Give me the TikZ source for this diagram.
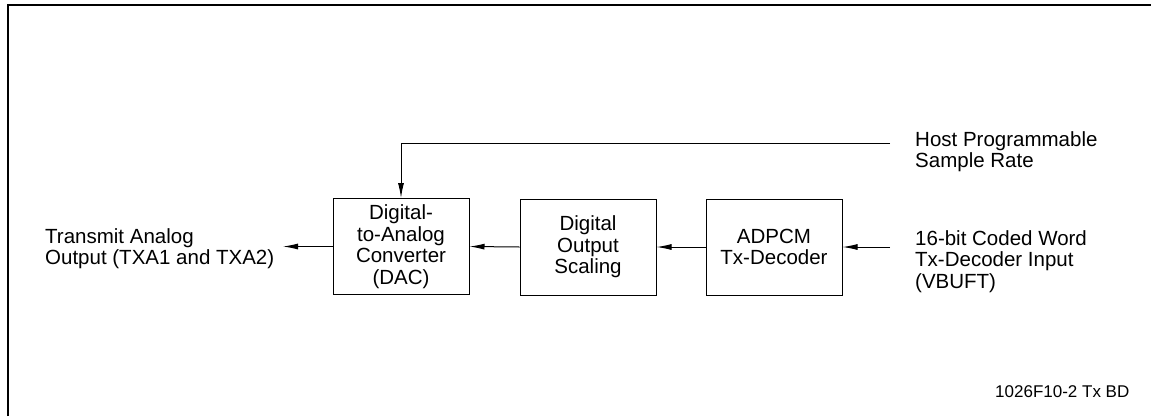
\documentclass[tikz,border=0pt]{standalone}
\usepackage{fontspec}
\setmainfont{Liberation Sans}
\usetikzlibrary{arrows.meta}

\begin{document}
\begin{tikzpicture}
[
	x=1pt, y=-1pt,
	blockbox/.style={draw,line width=1pt,minimum width=136pt,minimum height=96pt,inner sep=0pt,align=center,font=\fontsize{20.5}{21.5}\selectfont},
	lbl/.style={inner sep=0pt,align=left,anchor=base west,font=\fontsize{20.5}{21.5}\selectfont},
	sigarrow/.style={line width=1pt,-{Latex[length=15pt,width=6pt]}}
]

	\useasboundingbox (0,0) rectangle (1151,416);

	% frame
	\draw[line width=2.5pt] (8,416) -- (8,5) -- (1151,5);

	% blocks
	\node[blockbox] (dac) at (401,246.5) {Digital-\\to-Analog\\Converter\\(DAC)};
	\node[blockbox] (scaling) at (588,247) {Digital\\Output\\Scaling};
	\node[blockbox] (adpcm) at (774,247) {ADPCM\\Tx-Decoder};

	% labels (base = last line)
	\node[lbl] (outlbl) at (45,264.5) {Transmit Analog\\Output (TXA1 and TXA2)};
	\node[lbl] (hostlbl) at (915,167.5) {Host Programmable\\Sample Rate};
	\node[lbl] (inlbl) at (915,288) {16-bit Coded Word\\Tx-Decoder Input\\(VBUFT)};
	\node[inner sep=0pt,anchor=base west,font=\fontsize{17}{18}\selectfont] (figid) at (995,397) {1026F10-2 Tx BD};

	\coordinate (outend) at (283,246.5);
	\coordinate (inend) at (890,247);
	\coordinate (hostend) at (890,143);

	% signal path
	\draw[sigarrow] (inend) -- (adpcm.east);
	\draw[sigarrow] (adpcm.west) -- (scaling.east);
	\draw[sigarrow] (scaling.west) -- (dac.east);
	\draw[sigarrow] (dac.west) -- (outend);
	\draw[sigarrow] (hostend) -- (hostend -| dac.north) -- (dac.north);

\end{tikzpicture}
\end{document}
